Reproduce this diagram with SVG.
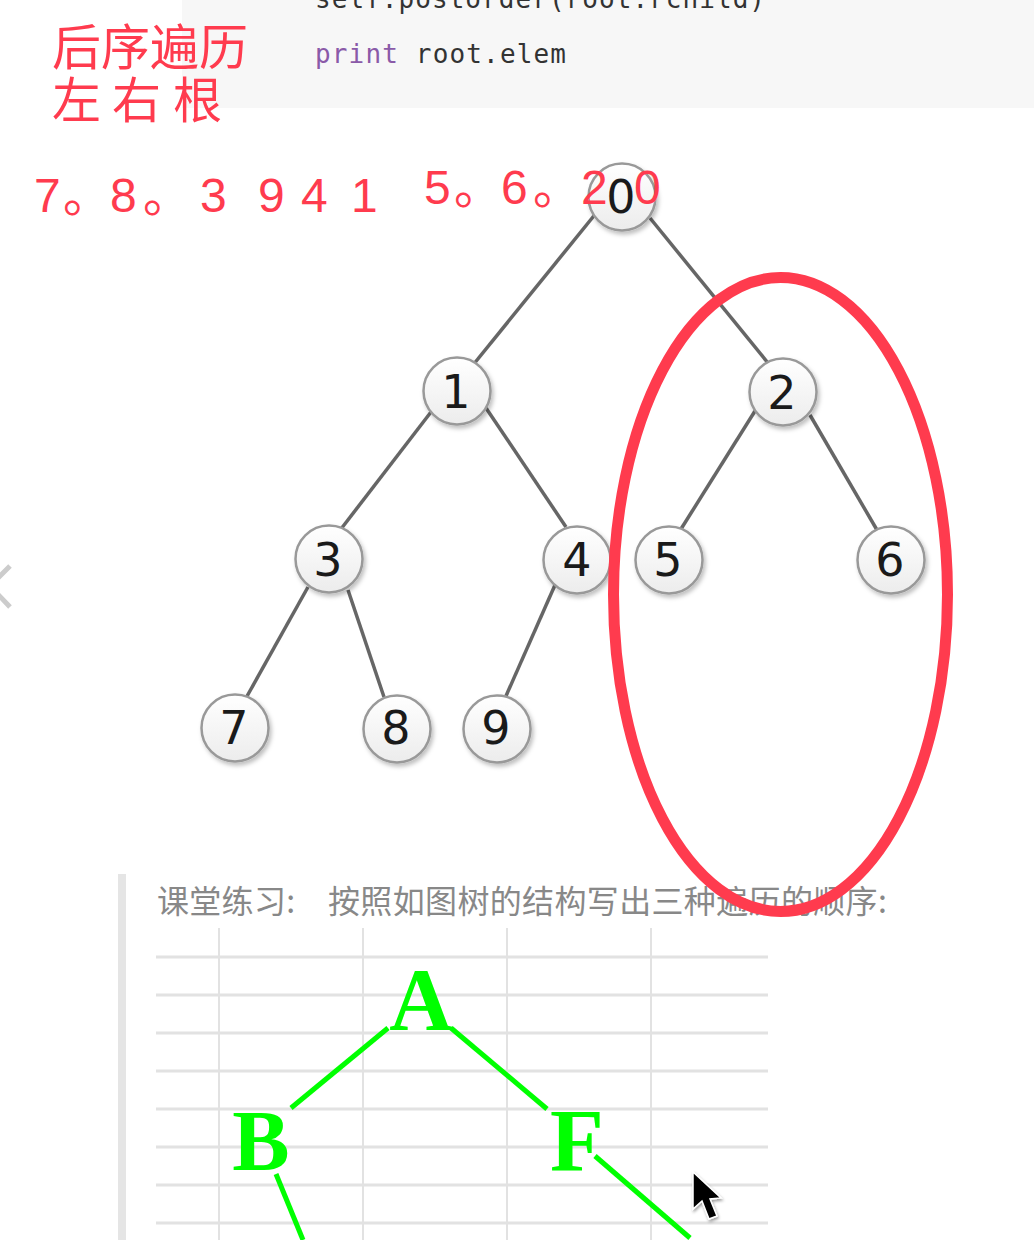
<svg xmlns="http://www.w3.org/2000/svg" width="1034" height="1240" viewBox="0 0 1034 1240">
<style>
.code{font-family:"DejaVu Sans Mono","Liberation Mono",monospace;font-size:26px;fill:#333}
.red{font-family:"Noto Sans CJK SC","Liberation Sans",sans-serif;font-size:49px;fill:#ff3b4e}
.num{font-family:"Liberation Sans","Noto Sans CJK SC",sans-serif;font-size:48px;fill:#ff3b4e}
.dig{font-family:"DejaVu Sans",sans-serif;font-size:46px;fill:#1a1a1a;text-anchor:middle}
.n{fill:url(#ng);stroke:#999;stroke-width:2.5;filter:url(#sh)}
.e{stroke:#666;stroke-width:3.5;fill:none}
.g{stroke:#e2e2e2;stroke-width:3}
.v{stroke:#e2e2e2;stroke-width:2}
.ge{stroke:#00ff00;stroke-width:5;fill:none}
.gt{font-family:"Liberation Serif",serif;font-weight:bold;fill:#00ff00;text-anchor:middle}
.cap{font-family:"Noto Sans CJK SC",sans-serif;font-size:32px;fill:#888}
</style>
<defs>
<linearGradient id="ng" x1="0" y1="0" x2="0" y2="1"><stop offset="0" stop-color="#ffffff"/><stop offset="1" stop-color="#ececec"/></linearGradient>
<filter id="sh" x="-20%" y="-20%" width="150%" height="150%"><feDropShadow dx="2" dy="3" stdDeviation="2" flood-color="#000" flood-opacity="0.25"/></filter>
<filter id="cs" x="-30%" y="-30%" width="170%" height="170%"><feDropShadow dx="1" dy="2" stdDeviation="1.5" flood-color="#000" flood-opacity="0.4"/></filter>
</defs>
<rect width="1034" height="1240" fill="#fff"/>
<rect x="182" y="0" width="852" height="108" fill="#f7f7f7"/>
<text class="code" x="315" y="8" textLength="450">self.postorder(root.rchild)</text>
<text class="code" x="315" y="63" textLength="251"><tspan fill="#8a5aa8">print</tspan> root.elem</text>
<path d="M10,566 L-10,586 L10,607" fill="none" stroke="#ccc" stroke-width="5"/>
<g id="connectors">
<path class="e" d="M597,212 L473,365"/>
<path class="e" d="M650,218 L768,363"/>
<path class="e" d="M431,412 L341,529"/>
<path class="e" d="M486,408 L566,527"/>
<path class="e" d="M755,411 L681,529"/>
<path class="e" d="M810,415 L877,530"/>
<path class="e" d="M308,587 L246,698"/>
<path class="e" d="M348,590 L384,697"/>
<path class="e" d="M555,585 L506,696"/>
</g>
<g id="n0"><circle class="n" cx="622" cy="197" r="33.5"/><text class="dig" x="621" y="213">0</text></g>
<g id="n1"><circle class="n" cx="457" cy="391" r="33.5"/><text class="dig" x="456" y="408">1</text></g>
<g id="n2"><circle class="n" cx="783" cy="392" r="33.5"/><text class="dig" x="782" y="409">2</text></g>
<g id="n3"><circle class="n" cx="329" cy="559" r="33.5"/><text class="dig" x="328" y="576">3</text></g>
<g id="n4"><circle class="n" cx="577" cy="560" r="33.5"/><text class="dig" x="577" y="576">4</text></g>
<g id="n5"><circle class="n" cx="669" cy="560" r="33.5"/><text class="dig" x="668" y="576">5</text></g>
<g id="n6"><circle class="n" cx="891" cy="560" r="33.5"/><text class="dig" x="890" y="576">6</text></g>
<g id="n7"><circle class="n" cx="235" cy="728" r="33.5"/><text class="dig" x="234" y="744">7</text></g>
<g id="n8"><circle class="n" cx="397" cy="729" r="33.5"/><text class="dig" x="396" y="744">8</text></g>
<g id="n9"><circle class="n" cx="497" cy="729" r="33.5"/><text class="dig" x="496" y="744">9</text></g>
<rect x="118" y="874" width="8" height="366" fill="#e5e5e5"/>
<text class="cap" x="157" y="913" letter-spacing="0.3">课堂练习:</text>
<text class="cap" x="328" y="913" letter-spacing="0.35">按照如图树的结构写出三种遍历的顺序:</text>
<g id="grid">
<path class="g" d="M156,957H768M156,995H768M156,1033H768M156,1071H768M156,1109H768M156,1147H768M156,1185H768M156,1223H768"/>
<path class="v" d="M219,928V1240M363,928V1240M507,928V1240M651,928V1240"/>
</g>
<g id="green-connectors">
<path class="ge" d="M388,1028 L291,1108"/>
<path class="ge" d="M451,1028 L547,1109"/>
<path class="ge" d="M276,1174 L303,1240"/>
<path class="ge" d="M595,1156 L690,1238"/>
</g>
<g id="nA"><text class="gt" font-size="88" x="421" y="1029">A</text></g>
<g id="nB"><text class="gt" font-size="86" x="261" y="1170">B</text></g>
<g id="nF"><text class="gt" font-size="88" x="577" y="1170">F</text></g>
<path d="M693,1172 L693,1209 L702,1201 L709,1219 L717,1216 L710,1199 L721,1198 Z" fill="#000" stroke="#fff" stroke-width="1.5" filter="url(#cs)"/>
<ellipse cx="780.5" cy="594.5" rx="167" ry="317" fill="none" stroke="#ff3b4e" stroke-width="11"/>
<text class="red" x="52" y="65">后序遍历</text>
<text class="red" y="118"><tspan x="52">左</tspan><tspan x="112">右</tspan><tspan x="173">根</tspan></text>
<text class="num" x="34" y="212">7</text>
<text class="num" x="63" y="212">。</text>
<text class="num" x="110" y="212">8</text>
<text class="num" x="143" y="212">。</text>
<text class="num" x="200" y="212">3</text>
<text class="num" x="258" y="212">9</text>
<text class="num" x="301" y="212">4</text>
<text class="num" x="351" y="212">1</text>
<text class="num" x="424" y="204">5</text>
<text class="num" x="454" y="204">。</text>
<text class="num" x="501" y="204">6</text>
<text class="num" x="533" y="204">。</text>
<text class="num" x="581" y="204">2</text>
<text class="num" x="634" y="204">0</text>
</svg>
